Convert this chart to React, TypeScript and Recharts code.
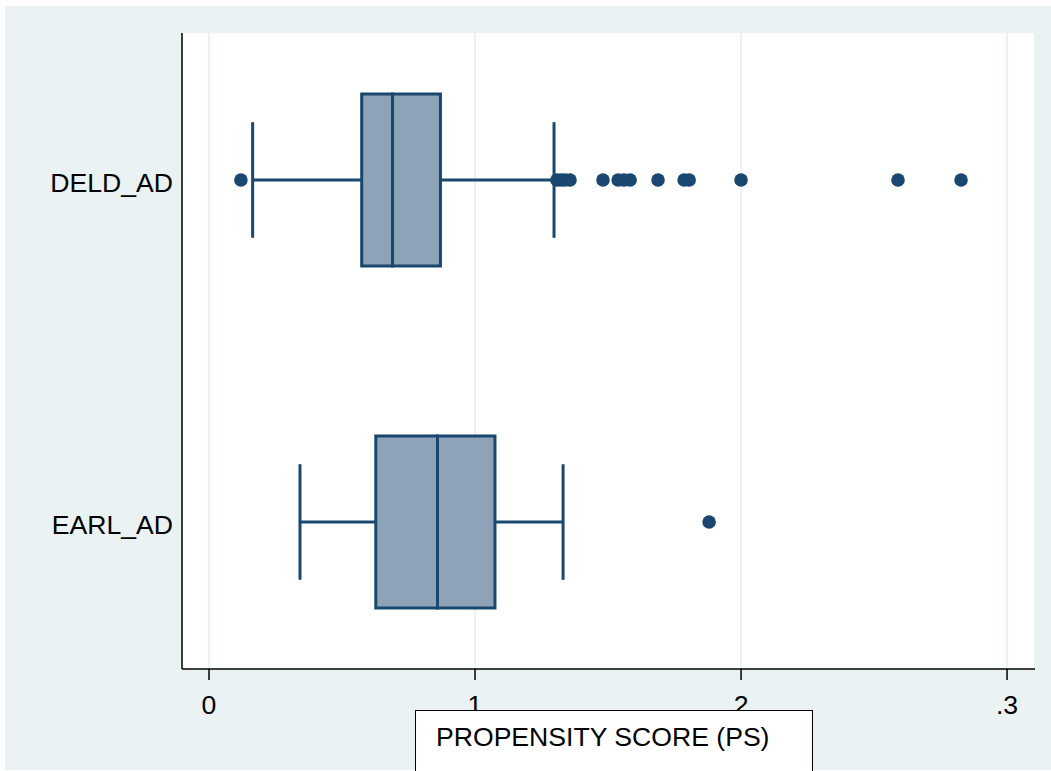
import React from 'react';
import {
  ComposedChart,
  XAxis,
  YAxis,
  CartesianGrid,
  Scatter,
  ReferenceArea,
  ReferenceLine,
} from 'recharts';

// ---- data ----
const categories = ['DELD_AD', 'EARL_AD'];
const categoryPositions = [1, 2];
const lowerWhisker = [0.0164, 0.0342];
const q1 = [0.0574, 0.0627];
const median = [0.069, 0.0859];
const q3 = [0.087, 0.1075];
const upperWhisker = [0.1297, 0.1331];
const outliersDELD = [
  0.012, 0.1308, 0.1323, 0.1338, 0.1357, 0.1481, 0.1538, 0.156, 0.1583, 0.1688,
  0.1786, 0.1805, 0.2, 0.259, 0.2827,
];
const outliersEARL = [0.188];
const xTicks = [0, 0.1, 0.2, 0.3];
const xTickLabels = ['0', '1', '2', '.3'];
const xTitle = 'PROPENSITY SCORE (PS)';

// ---- styles ----
const NAVY = '#1A476F';
const BOX_FILL = '#8EA3B8';
const BG = '#EAF2F3';
const FONT = '"Liberation Sans", Arial, sans-serif';
const FS = 26.6;
const BOX_HALF = 0.2515;
const CAP_HALF = 0.169;

const outlierData = [
  ...outliersDELD.map((x) => ({ x, y: categoryPositions[0] })),
  ...outliersEARL.map((x) => ({ x, y: categoryPositions[1] })),
];

const Dot = (props: any) => {
  const { cx, cy } = props;
  if (cx == null || cy == null) return null;
  return <circle cx={cx} cy={cy} r={6.8} fill={NAVY} />;
};

export default function App() {
  return (
    <div
      style={{
        position: 'absolute',
        left: 0,
        top: 0,
        width: 1051,
        height: 771,
        background: '#fff',
        overflow: 'hidden',
        fontFamily: FONT,
      }}
    >
      <div
        style={{
          position: 'absolute',
          left: 5,
          top: 6,
          width: 1046,
          height: 764,
          background: BG,
        }}
      />
      <div style={{ position: 'absolute', left: 0, top: 0 }}>
        <ComposedChart
          width={1051}
          height={771}
          margin={{ top: 33, right: 16, left: 0, bottom: 62 }}
          style={{ fontFamily: FONT }}
        >
          <CartesianGrid
            horizontal={false}
            vertical={true}
            fill="#ffffff"
            fillOpacity={1}
            stroke={BG}
            strokeWidth={2}
          />
          <XAxis
            type="number"
            dataKey="x"
            domain={[-0.01015, 0.3105]}
            allowDataOverflow
            ticks={xTicks}
            interval={0}
            tickFormatter={(v: number) => {
              const i = xTicks.findIndex((t) => Math.abs(t - v) < 1e-9);
              return i >= 0 ? xTickLabels[i] : '';
            }}
            height={40}
            tickSize={11}
            tickMargin={15}
            axisLine={{ stroke: '#000', strokeWidth: 1.5 }}
            tickLine={{ stroke: '#000', strokeWidth: 1.5 }}
            tick={{ fontSize: FS, fill: '#000', fontFamily: FONT }}
          />
          <YAxis
            type="number"
            dataKey="y"
            domain={[0.5702, 2.4298]}
            allowDataOverflow
            reversed
            ticks={categoryPositions}
            interval={0}
            tickFormatter={(v: number) => {
              const i = categoryPositions.indexOf(v);
              return i >= 0 ? categories[i] : '';
            }}
            width={182}
            tickSize={4}
            tickMargin={5}
            axisLine={{ stroke: '#000', strokeWidth: 1.5 }}
            tickLine={false}
            tick={{ fontSize: FS, fill: '#000', fontFamily: FONT, dy: 3 }}
          />
          {categoryPositions.map((y, i) => (
            <ReferenceLine
              key={'wl' + i}
              segment={[
                { x: lowerWhisker[i], y },
                { x: q1[i], y },
              ]}
              stroke={NAVY}
              strokeWidth={3}
              ifOverflow="visible"
            />
          ))}
          {categoryPositions.map((y, i) => (
            <ReferenceLine
              key={'wh' + i}
              segment={[
                { x: q3[i], y },
                { x: upperWhisker[i], y },
              ]}
              stroke={NAVY}
              strokeWidth={3}
              ifOverflow="visible"
            />
          ))}
          {categoryPositions.map((y, i) => (
            <ReferenceLine
              key={'cl' + i}
              segment={[
                { x: lowerWhisker[i], y: y - CAP_HALF },
                { x: lowerWhisker[i], y: y + CAP_HALF },
              ]}
              stroke={NAVY}
              strokeWidth={3}
              ifOverflow="visible"
            />
          ))}
          {categoryPositions.map((y, i) => (
            <ReferenceLine
              key={'ch' + i}
              segment={[
                { x: upperWhisker[i], y: y - CAP_HALF },
                { x: upperWhisker[i], y: y + CAP_HALF },
              ]}
              stroke={NAVY}
              strokeWidth={3}
              ifOverflow="visible"
            />
          ))}
          {categoryPositions.map((y, i) => (
            <ReferenceArea
              key={'bl' + i}
              x1={q1[i]}
              x2={median[i]}
              y1={y - BOX_HALF}
              y2={y + BOX_HALF}
              fill={BOX_FILL}
              fillOpacity={1}
              stroke={NAVY}
              strokeWidth={3}
              ifOverflow="visible"
            />
          ))}
          {categoryPositions.map((y, i) => (
            <ReferenceArea
              key={'bh' + i}
              x1={median[i]}
              x2={q3[i]}
              y1={y - BOX_HALF}
              y2={y + BOX_HALF}
              fill={BOX_FILL}
              fillOpacity={1}
              stroke={NAVY}
              strokeWidth={3}
              ifOverflow="visible"
            />
          ))}
          <Scatter
            data={outlierData}
            dataKey="y"
            fill={NAVY}
            shape={<Dot />}
            isAnimationActive={false}
          />
        </ComposedChart>
      </div>
      <div
        style={{
          position: 'absolute',
          left: 415,
          top: 710,
          width: 398,
          height: 80,
          background: '#fff',
          border: '1.5px solid #000',
          boxSizing: 'border-box',
        }}
      >
        <div
          style={{
            position: 'absolute',
            left: 20,
            top: 11,
            fontSize: FS,
            lineHeight: '30px',
            color: '#000',
            whiteSpace: 'nowrap',
            fontFamily: FONT,
          }}
        >
          {xTitle}
        </div>
      </div>
    </div>
  );
}
